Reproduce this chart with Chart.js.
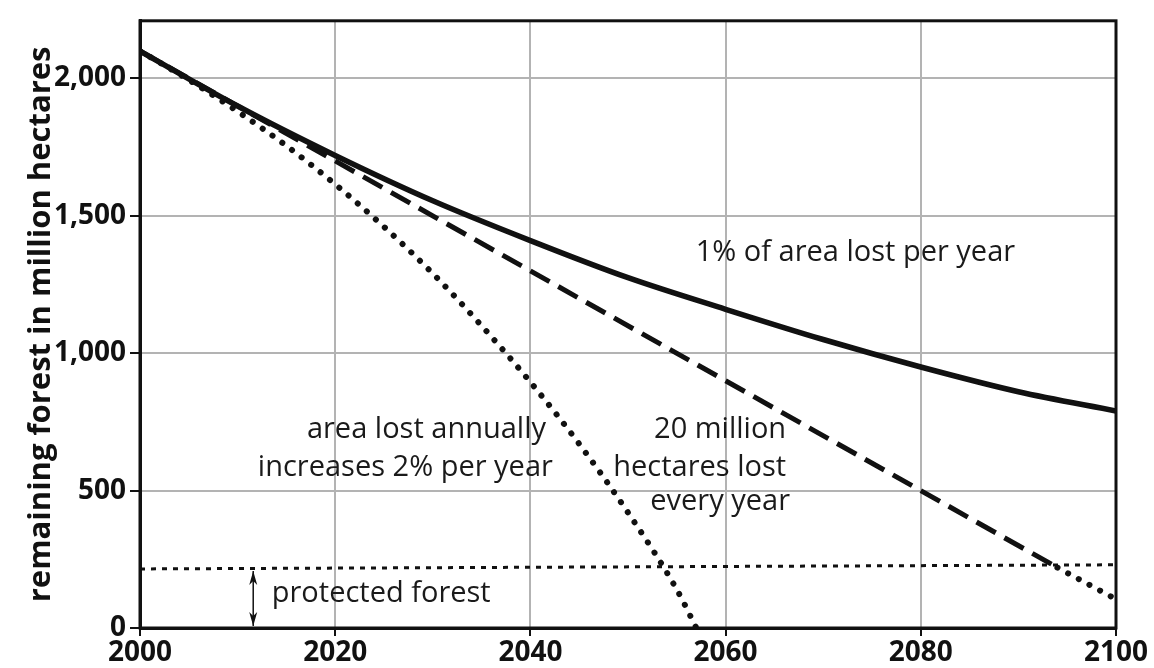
<!DOCTYPE html>
<html>
<head>
<meta charset="utf-8">
<script src="https://cdn.jsdelivr.net/npm/chart.js@4"></script>
<style>
  html, body { margin: 0; padding: 0; background: #fff; }
  #wrap { width: 1154px; height: 668px; }
</style>
</head>
<body>
<div id="wrap"><canvas id="forestChart" width="1154" height="668"></canvas></div>
<script>
// values (million hectares)
const xTicks = [2000, 2020, 2040, 2060, 2080, 2100];
const yTicks = [0, 500, 1000, 1500, 2000];

const onePctYears  = [2000, 2010, 2020, 2030, 2040, 2050, 2060, 2070, 2080, 2090, 2100];
const onePctValues = [2100, 1900, 1720, 1555, 1410, 1275, 1160, 1050, 950, 860, 790];

const constYears  = [2000, 2094];
const constValues = [2100, 220];
const constTailYears  = [2094, 2100];
const constTailValues = [220, 105];

const growYears  = [2000, 2005, 2010, 2015, 2020, 2025, 2030, 2035, 2040, 2045, 2050, 2055, 2057];
const growValues = [2100, 1995, 1880, 1755, 1615, 1460, 1290, 1100, 895, 670, 420, 140, 0];

const protectedYears  = [2000, 2100];
const protectedValues = [215, 230];

const FONT = '"Open Sans", "Noto Sans", sans-serif';
const pts = (xs, ys) => xs.map((x, i) => ({ x: x, y: ys[i] }));

// frame, arrow and text labels
const extras = {
    id: 'extras',
    afterDatasetsDraw(chart) {
        const { ctx, chartArea: a, scales: { x, y } } = chart;
        ctx.save();

        // box round the plot
        ctx.strokeStyle = '#111';
        ctx.lineWidth = 3;
        ctx.strokeRect(a.left, a.top, a.right - a.left, a.bottom - a.top);

        // double arrow for protected forest
        const ax = x.getPixelForValue(2011.6);
        const y0 = y.getPixelForValue(0) - 2;
        const y1 = y.getPixelForValue(215) + 2;
        ctx.lineWidth = 1.5;
        ctx.beginPath();
        ctx.moveTo(ax, y0); ctx.lineTo(ax, y1);
        ctx.stroke();
        ctx.fillStyle = '#111';
        ctx.beginPath();
        ctx.moveTo(ax, y1); ctx.lineTo(ax - 4, y1 + 14); ctx.lineTo(ax, y1 + 10); ctx.lineTo(ax + 4, y1 + 14); ctx.closePath();
        ctx.fill();
        ctx.beginPath();
        ctx.moveTo(ax, y0); ctx.lineTo(ax - 4, y0 - 14); ctx.lineTo(ax, y0 - 10); ctx.lineTo(ax + 4, y0 - 14); ctx.closePath();
        ctx.fill();

        // labels
        ctx.fillStyle = '#1a1a1a';
        ctx.font = '29px ' + FONT;
        ctx.textBaseline = 'middle';
        const put = (txt, yr, val, align) => {
            ctx.textAlign = align;
            ctx.fillText(txt, x.getPixelForValue(yr), y.getPixelForValue(val));
        };
        put('1% of area lost per year', 2073.3, 1365, 'center');
        put('area lost annually', 2041.6, 720, 'right');
        put('increases 2% per year', 2042.3, 583, 'right');
        put('20 million', 2066.2, 720, 'right');
        put('hectares lost', 2066.2, 583, 'right');
        put('every year', 2066.6, 460, 'right');
        put('protected forest', 2013.5, 126, 'left');
        ctx.restore();
    }
};

new Chart(document.getElementById('forestChart'), {
    type: 'line',
    data: {
        datasets: [
            { label: '1% of area lost per year', data: pts(onePctYears, onePctValues),
              borderColor: '#111', borderWidth: 5.5, cubicInterpolationMode: 'monotone' },
            { label: '20 million hectares lost every year', data: pts(constYears, constValues),
              borderColor: '#111', borderWidth: 5, borderDash: [22, 10] },
            { label: '20 million (below protected)', data: pts(constTailYears, constTailValues),
              borderColor: '#111', borderWidth: 6, borderDash: [0.1, 12], borderCapStyle: 'round' },
            { label: 'area lost annually increases 2% per year', data: pts(growYears, growValues),
              borderColor: '#111', borderWidth: 6, borderDash: [0.1, 12], borderCapStyle: 'round',
              cubicInterpolationMode: 'monotone' },
            { label: 'protected forest', data: pts(protectedYears, protectedValues),
              borderColor: '#111', borderWidth: 3, borderDash: [5, 6] }
        ]
    },
    options: {
        responsive: false,
        animation: false,
        layout: { padding: { top: 14, right: 38, left: 0, bottom: 0 } },
        elements: { point: { radius: 0 } },
        plugins: { legend: { display: false }, tooltip: { enabled: false } },
        scales: {
            x: {
                type: 'linear', min: 2000, max: 2100,
                afterBuildTicks: s => { s.ticks = xTicks.map(v => ({ value: v })); },
                afterFit: s => { s.height = 40; },
                grid: { color: '#b3b3b3', lineWidth: 2, tickColor: '#111', tickLength: 8 },
                border: { color: '#111', width: 3 },
                ticks: { color: '#111', padding: 0, font: { family: FONT, size: 28, weight: 'bold' },
                         callback: v => String(v) }
            },
            y: {
                min: 0, max: 2210,
                afterBuildTicks: s => { s.ticks = yTicks.map(v => ({ value: v })); },
                afterFit: s => { s.width = 140; },
                grid: { color: '#b3b3b3', lineWidth: 2, tickColor: '#111', tickLength: 10 },
                border: { color: '#111', width: 3 },
                ticks: { color: '#111', padding: 4, font: { family: FONT, size: 28, weight: 'bold' },
                         callback: v => v.toLocaleString('en-US') },
                title: { display: true, text: 'remaining forest in million hectares', color: '#111',
                         padding: { top: 23, bottom: 0 }, font: { family: FONT, size: 31, weight: 'bold' } }
            }
        }
    },
    plugins: [extras]
});
</script>
</body>
</html>
